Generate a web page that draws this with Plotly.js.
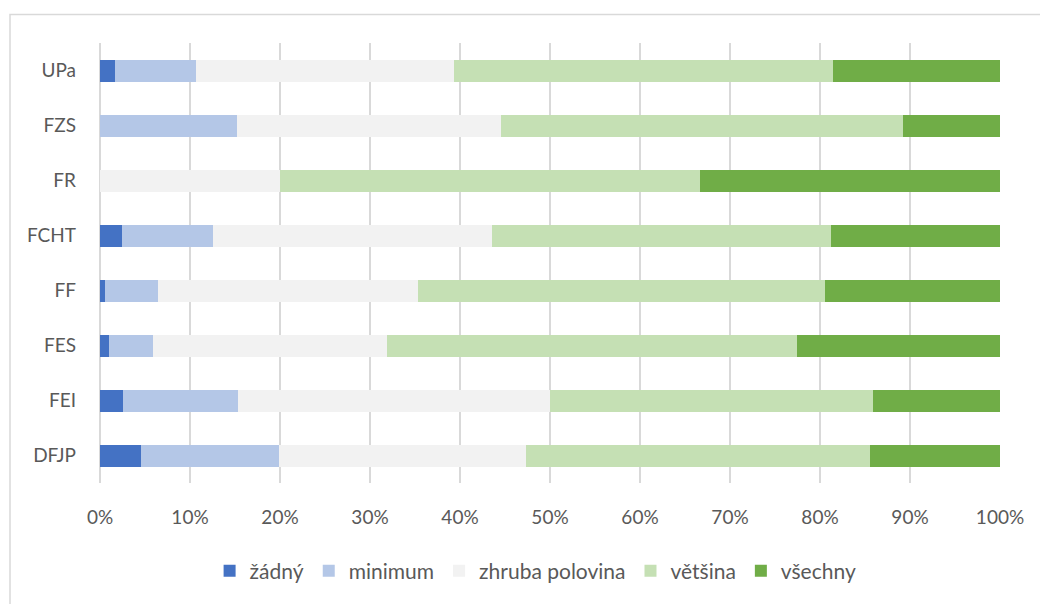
<!DOCTYPE html>
<html>
<head>
<meta charset="utf-8">
<script src="https://cdn.plot.ly/plotly-3.0.1.min.js"></script>
<style>
html,body{margin:0;padding:0;background:#fff;}
#chart{width:1040px;height:604px;}
</style>
</head>
<body>
<div id="chart"></div>
<script>
const categories = ["DFJP", "FEI", "FES", "FF", "FCHT", "FR", "FZS", "UPa"];
const seriesNames = ["žádný", "minimum", "zhruba polovina", "většina", "všechny"];
const zadny     = [4.6, 2.6, 1.0, 0.6, 2.4, 0.0, 0.0, 1.7];
const minimum   = [15.3, 12.7, 4.9, 5.8, 10.2, 0.0, 15.2, 9.0];
const polovina  = [27.4, 34.7, 26.0, 28.9, 30.9, 20.0, 29.4, 28.6];
const vetsina   = [38.2, 35.9, 45.5, 45.3, 37.7, 46.7, 44.6, 42.1];
const vsechny   = [14.5, 14.1, 22.6, 19.4, 18.8, 33.3, 10.8, 18.6];
const xTicks = [0, 10, 20, 30, 40, 50, 60, 70, 80, 90, 100];

const colors = ["#4472C4", "#B4C7E7", "#F2F2F2", "#C5E0B4", "#70AD47"];
const values = [zadny, minimum, polovina, vetsina, vsechny];

const traces = values.map((v, i) => ({
  type: "bar",
  orientation: "h",
  name: seriesNames[i],
  y: categories,
  x: v,
  marker: {color: colors[i], line: {width: 0}},
  hoverinfo: "name+x"
}));

const fontFam = "Lato, 'Noto Sans', sans-serif";
const layout = {
  width: 1040,
  height: 604,
  barmode: "stack",
  bargap: 0.6,
  paper_bgcolor: "#ffffff",
  plot_bgcolor: "#ffffff",
  margin: {l: 100, r: 40, t: 43, b: 114},
  font: {family: fontFam, size: 19, color: "#595959"},
  xaxis: {
    range: [0, 100],
    tickvals: xTicks,
    ticktext: xTicks.map(t => t + "%"),
    showgrid: true,
    gridcolor: "#d9d9d9",
    gridwidth: 1.5,
    zeroline: true,
    zerolinecolor: "#d9d9d9",
    zerolinewidth: 1.5,
    showline: false,
    ticks: "",
    ticklabelstandoff: 21,
    fixedrange: true
  },
  yaxis: {
    categoryorder: "array",
    categoryarray: categories,
    showgrid: false,
    zeroline: false,
    ticks: "",
    ticklabelstandoff: 23,
    fixedrange: true
  },
  legend: {
    orientation: "h",
    traceorder: "normal",
    x: 0.484,
    xanchor: "center",
    y: -0.2,
    yanchor: "middle",
    font: {family: fontFam, size: 21, color: "#595959"},
    itemwidth: 30
  },
  shapes: [{
    type: "rect",
    xref: "paper", yref: "paper",
    x0: -0.1, x1: 1.2,
    y0: -0.4, y1: 1 + 29/447,
    line: {color: "#d9d9d9", width: 1.5},
    fillcolor: "rgba(0,0,0,0)",
    layer: "below"
  }],
  showlegend: true
};

Plotly.newPlot("chart", traces, layout, {displayModeBar: false, staticPlot: true});
</script>
</body>
</html>
